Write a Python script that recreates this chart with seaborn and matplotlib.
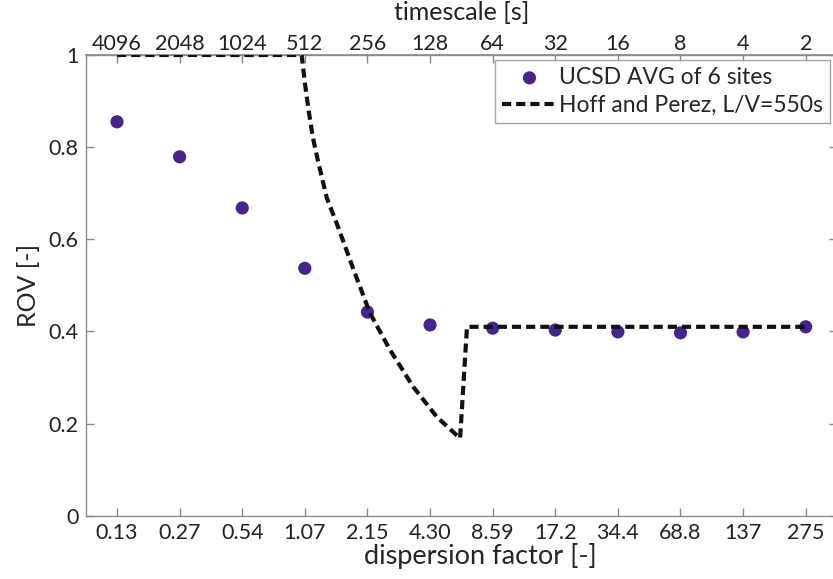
import matplotlib
matplotlib.use("Agg")
import matplotlib.pyplot as plt
import seaborn as sns
import pandas as pd

sns.set_theme(style="white")
plt.rcParams['font.family'] = ['Lato', 'DejaVu Sans']

# Data
dispersion_labels = ["0.13", "0.27", "0.54", "1.07", "2.15", "4.30", "8.59", "17.2", "34.4", "68.8", "137", "275"]
timescale_labels = ["4096", "2048", "1024", "512", "256", "128", "64", "32", "16", "8", "4", "2"]
positions = list(range(1, 13))
ucsd_rov = [0.855, 0.779, 0.668, 0.537, 0.442, 0.414, 0.407, 0.403, 0.399, 0.397, 0.399, 0.410]

hp_pos = [1.0, 3.95, 4.00, 4.06, 4.13, 4.21, 4.35, 4.53, 4.80, 5.04, 5.36, 5.73, 6.11, 6.48, 6.59, 12.0]
hp_rov = [1.0, 1.0, 0.94, 0.88, 0.82, 0.77, 0.69, 0.627, 0.526, 0.44, 0.36, 0.28, 0.214, 0.168, 0.41, 0.41]

W, H = 833, 579
fig = plt.figure(figsize=(W / 100, H / 100), dpi=100)
ax = fig.add_axes([85.7 / W, 1 - 515.7 / H, (837 - 85.7) / W, (515.7 - 55) / H])

df_pts = pd.DataFrame({"pos": positions, "rov": ucsd_rov})
df_line = pd.DataFrame({"pos": hp_pos, "rov": hp_rov})

sns.lineplot(data=df_line, x="pos", y="rov", ax=ax, color="#111111", lw=3.0,
             sort=False, estimator=None, label="Hoff and Perez, L/V=550s",
             zorder=3)
ax.lines[-1].set_dashes([2.2, 1.2])
sns.scatterplot(data=df_pts, x="pos", y="rov", ax=ax, color="#46248c", s=90,
                edgecolor="none", label="UCSD AVG of 6 sites", zorder=2)

ax.set_xlim(0.5, 12.5)
ax.set_ylim(0, 1)
ax.set_xticks(positions)
ax.set_xticklabels(dispersion_labels)
ax.set_yticks([0, 0.2, 0.4, 0.6, 0.8, 1.0])
ax.set_yticklabels(["0", "0.2", "0.4", "0.6", "0.8", "1"])
ax.set_xlabel("dispersion factor [-]", fontsize=19.5, labelpad=0)
ax.xaxis.label.set_position(((480 - 85.7) / (837 - 85.7), 0))
ax.set_ylabel("ROV [-]", fontsize=18, labelpad=6)
ax.tick_params(axis="both", direction="in", length=6, width=1, color="#888888",
               labelsize=15.5, labelcolor="#222222", pad=5)
ax.tick_params(axis="y", right=True, left=True)
ax.tick_params(axis="x", bottom=True)
for s in ax.spines.values():
    s.set_color("#8c8c8c")
    s.set_linewidth(1.0)

top = ax.secondary_xaxis("top")
top.set_xticks(positions)
top.set_xticklabels(timescale_labels)
top.tick_params(direction="in", length=6, width=1, color="#888888",
                labelsize=15.5, labelcolor="#222222", pad=0.5)
top.spines["top"].set_color("#8c8c8c")
fig.text(462 / W, 1 - 0.5 / H, "timescale [s]",
         ha="center", va="top", fontsize=18, color="#222222")

handles, labels = ax.get_legend_handles_labels()
order = [labels.index("UCSD AVG of 6 sites"), labels.index("Hoff and Perez, L/V=550s")]
leg = ax.legend([handles[i] for i in order], [labels[i] for i in order],
                loc="upper right", bbox_to_anchor=(830 / W, 1 - 60 / H),
                bbox_transform=fig.transFigure, fontsize=16.5, frameon=True,
                fancybox=False, edgecolor="#8c8c8c", handlelength=2.4,
                handletextpad=0.1, borderpad=0.3, labelspacing=0.3,
                borderaxespad=0)
leg.get_frame().set_linewidth(1.0)

fig.savefig("out.png", dpi=100)
